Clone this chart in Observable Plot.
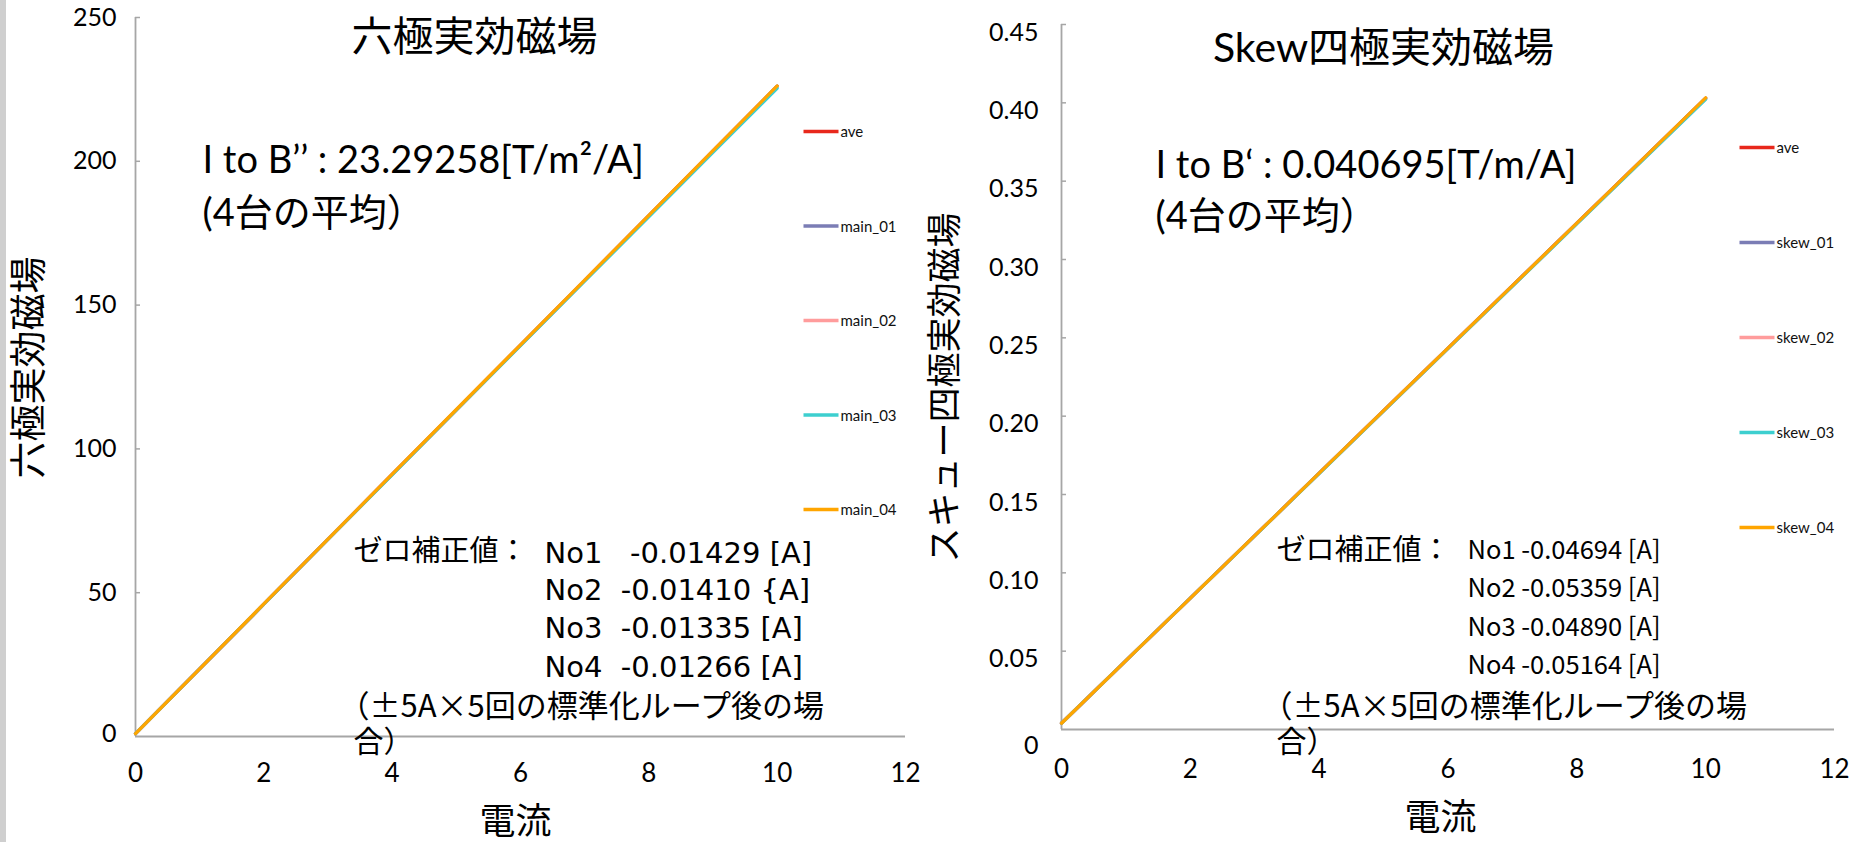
<!DOCTYPE html>
<html>
<head>
<meta charset="utf-8">
<script src="https://cdn.jsdelivr.net/npm/d3@7"></script>
<script src="https://cdn.jsdelivr.net/npm/@observablehq/plot@0.6"></script>
<style>
  html, body { margin: 0; padding: 0; background: #fff; }
  #wrap { position: relative; width: 1858px; height: 842px; overflow: hidden; background: #fff; }
  #strip { position: absolute; left: 0; top: 0; width: 6px; height: 842px; background: #cfcfcf; }
  #wrap svg { position: absolute; top: 0; }
</style>
</head>
<body>
<div id="wrap"><div id="strip"></div></div>
<script>
// ---------------- data ----------------
const currents = [0, 1, 2, 3, 4, 5, 6, 7, 8, 9, 10];

// 六極 (sextupole) effective field
const hexSeries = ["ave", "main_01", "main_02", "main_03", "main_04"];
const hexAve    = [1.0, 23.5, 46.0, 68.6, 91.1, 113.6, 136.1, 158.6, 181.1, 203.6, 226.1];
const hexMain01 = [1.0, 23.5, 46.0, 68.6, 91.1, 113.6, 136.1, 158.6, 181.1, 203.6, 226.1];
const hexMain02 = [1.0, 23.5, 46.0, 68.6, 91.1, 113.6, 136.1, 158.6, 181.0, 203.5, 226.0];
const hexMain03 = [1.0, 23.5, 46.0, 68.5, 91.0, 113.5, 135.9, 158.3, 180.7, 203.1, 225.4];
const hexMain04 = [1.0, 23.5, 46.1, 68.6, 91.2, 113.7, 136.2, 158.7, 181.2, 203.7, 226.2];
const hexYTicks = [0, 50, 100, 150, 200, 250];

// Skew 四極 (skew quadrupole) effective field
const skewSeries = ["ave", "skew_01", "skew_02", "skew_03", "skew_04"];
const skewAve  = [0.0040, 0.0439, 0.0838, 0.1237, 0.1636, 0.2035, 0.2434, 0.2833, 0.3232, 0.3631, 0.4030];
const skew01   = [0.0040, 0.0439, 0.0838, 0.1237, 0.1636, 0.2035, 0.2434, 0.2833, 0.3232, 0.3631, 0.4030];
const skew02   = [0.0040, 0.0439, 0.0838, 0.1236, 0.1635, 0.2033, 0.2432, 0.2830, 0.3229, 0.3627, 0.4025];
const skew03   = [0.0040, 0.0439, 0.0838, 0.1236, 0.1634, 0.2032, 0.2431, 0.2829, 0.3227, 0.3625, 0.4022];
const skew04   = [0.0040, 0.0439, 0.0838, 0.1237, 0.1636, 0.2035, 0.2434, 0.2833, 0.3232, 0.3631, 0.4032];
const skewYTicks = [0, 0.05, 0.10, 0.15, 0.20, 0.25, 0.30, 0.35, 0.40, 0.45];

const xTicks = [0, 2, 4, 6, 8, 10, 12];
const seriesColors = ["#e8281c", "#7b7db5", "#ff9c9c", "#3dcfcf", "#ffa500"];

// texts
const hexTitle = "六極実効磁場";
const hexYLabel = "六極実効磁場";
const hexCoef = "I to B’’ : 23.29258[T/m²/A]";
const skewTitle = "Skew四極実効磁場";
const skewYLabel = "スキュー四極実効磁場";
const skewCoef = "I to B‘ : 0.040695[T/m/A]";
const avgNote = "(4台の平均）";
const xLabel = "電流";
const zeroHead = "ゼロ補正値：";
const hexZero = ["No1\u00a0\u00a0\u00a0-0.01429 [A]", "No2\u00a0\u00a0-0.01410 {A]", "No3\u00a0\u00a0-0.01335 [A]", "No4\u00a0\u00a0-0.01266 [A]"];
const skewZero = ["No1 -0.04694 [A]", "No2 -0.05359 [A]", "No3 -0.04890 [A]", "No4 -0.05164 [A]"];
const loopNote1 = "（±5A×5回の標準化ループ後の場";
const loopNote2 = "合）";

// ---------------- helpers ----------------
const FONT = "Lato, 'Noto Sans CJK JP', sans-serif";
const JP = "'Noto Sans CJK JP', sans-serif";
const WIDE = "'DejaVu Sans', 'Noto Sans CJK JP', sans-serif";
const AXIS = "#a6a6a6";

function longTable(names, arrays) {
  const rows = [];
  names.forEach((n, k) => arrays[k].forEach((v, i) => rows.push({I: currents[i], B: v, series: n})));
  return rows;
}

function buildChart(cfg) {
  const X = d3.scaleLinear([0, 12], [cfg.ml, cfg.width - cfg.mr]);
  const Y = d3.scaleLinear(cfg.yDomain, [cfg.height - cfg.mb, cfg.mt]);
  const px = (ax) => X.invert(ax - cfg.left);   // absolute page px -> data x
  const py = (ay) => Y.invert(ay);
  const txt = (t, ax, ay, o = {}) => Plot.text([t], {
    x: () => px(ax), y: () => py(ay), text: () => t,
    textAnchor: o.anchor || "start", lineAnchor: "middle",
    fontSize: o.size || 29, fill: "#000", rotate: o.rotate || 0, fontFamily: o.font || FONT
  });
  const tickLen = X.invert(cfg.ml + 5);
  const marks = [
    // axis lines
    Plot.ruleY([0], {stroke: AXIS, strokeWidth: 1.8}),
    Plot.ruleX([0], {y1: cfg.yDomain[0], y2: cfg.yDomain[1], stroke: AXIS, strokeWidth: 1.8}),
    Plot.ruleY(cfg.yTicks.filter(d => d !== 0), {y: d => d, x1: 0, x2: tickLen, stroke: AXIS, strokeWidth: 1.5}),
    // tick labels
    Plot.axisX(xTicks, {tickSize: 0, tickPadding: cfg.xPad, fontSize: 26, fill: "#000", fontFamily: FONT, label: null}),
    Plot.axisY(cfg.yTicks.filter(d => d !== 0), {tickSize: 0, tickPadding: cfg.yPad, dy: cfg.yDy, fontSize: 25, fill: "#000",
      fontFamily: FONT, tickFormat: cfg.fmt, label: null}),
    Plot.axisY([0], {tickSize: 0, tickPadding: cfg.yPad, dy: cfg.yDy0, fontSize: 25, fill: "#000",
      fontFamily: FONT, tickFormat: () => "0", label: null}),
    // data lines
    Plot.line(cfg.rows, {x: "I", y: "B", z: "series", stroke: "series", strokeWidth: 3.2, strokeLinecap: "round"}),
    // legend
    Plot.link(cfg.names, {
      x1: () => px(cfg.legX), x2: () => px(cfg.legX + 35),
      y1: (d, i) => py(cfg.legY + i * cfg.legGap), y2: (d, i) => py(cfg.legY + i * cfg.legGap),
      stroke: d => d, strokeWidth: 3.5
    }),
    Plot.text(cfg.names, {
      x: () => px(cfg.legX + 37), y: (d, i) => py(cfg.legY + 1 + i * cfg.legGap), text: d => d,
      textAnchor: "start", lineAnchor: "middle", fontSize: 15, fill: "#111", fontFamily: FONT
    }),
    ...cfg.texts.map(t => txt(...t))
  ];
  const svg = Plot.plot({
    width: cfg.width, height: cfg.height,
    marginLeft: cfg.ml, marginRight: cfg.mr, marginTop: cfg.mt, marginBottom: cfg.mb,
    x: {domain: [0, 12]},
    y: {domain: cfg.yDomain},
    color: {domain: cfg.names, range: seriesColors},
    style: {fontFamily: FONT, background: "transparent", overflow: "visible", color: "#000"},
    marks
  });
  svg.style.left = cfg.left + "px";
  return svg;
}

const wrap = document.getElementById("wrap");

// ---------------- left chart ----------------
wrap.appendChild(buildChart({
  left: 0, width: 920, height: 842, ml: 135, mr: 15, mt: 17, mb: 106,
  yDomain: [0, 250], yTicks: hexYTicks, fmt: d => String(d),
  xPad: 27, yPad: 19, yDy: 0, yDy0: -3,
  rows: longTable(hexSeries, [hexAve, hexMain01, hexMain02, hexMain03, hexMain04]),
  names: hexSeries, legX: 803, legY: 131, legGap: 94.5,
  texts: [
    [hexTitle, 474, 37, {size: 41, anchor: "middle"}],
    [hexCoef, 202, 160, {size: 38}],
    [avgNote, 202, 213, {size: 38}],
    [zeroHead, 353, 551, {size: 29, font: JP}],
    ...hexZero.map((s, i) => [s, 544, [553, 590, 628, 667][i], {size: 29, font: WIDE}]),
    [loopNote1, 338, 707, {size: 31, font: JP}],
    [loopNote2, 353, 742, {size: 30, font: JP}],
    [xLabel, 515, 822, {size: 36, anchor: "middle"}],
    [hexYLabel, 30, 367, {size: 37, anchor: "middle", rotate: -90}]
  ]
}));

// ---------------- right chart ----------------
wrap.appendChild(buildChart({
  left: 920, width: 938, height: 842, ml: 141, mr: 24, mt: 24, mb: 113,
  yDomain: [0, 0.45], yTicks: skewYTicks, fmt: d => d.toFixed(2),
  xPad: 30, yPad: 23, yDy: 8, yDy0: 16,
  rows: longTable(skewSeries, [skewAve, skew01, skew02, skew03, skew04]),
  names: skewSeries, legX: 1739, legY: 147, legGap: 95,
  texts: [
    [skewTitle, 1383, 48, {size: 41, anchor: "middle"}],
    [skewCoef, 1155, 165, {size: 38}],
    [avgNote, 1155, 216, {size: 38}],
    [zeroHead, 1276, 550, {size: 29, font: JP}],
    ...skewZero.map((s, i) => [s, 1467, [550, 588, 627, 665][i], {size: 25.5, font: JP}]),
    [loopNote1, 1261, 707, {size: 31, font: JP}],
    [loopNote2, 1276, 742, {size: 30, font: JP}],
    [xLabel, 1440, 818, {size: 36, anchor: "middle"}],
    [skewYLabel, 945, 387, {size: 35, anchor: "middle", rotate: -90}]
  ]
}));
</script>
</body>
</html>
